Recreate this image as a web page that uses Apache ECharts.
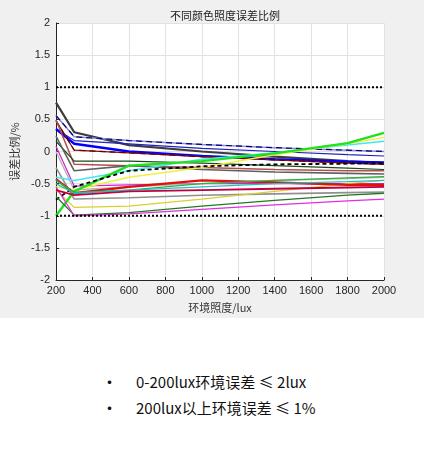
<!DOCTYPE html>
<html>
<head>
<meta charset="utf-8">
<script src="https://cdn.jsdelivr.net/npm/echarts@6/dist/echarts.min.js"></script>
<style>
  body { margin: 0; background: #fff; }
  #chart { width: 424px; height: 318px; }
  .notes { font-family: "Noto Sans CJK SC", sans-serif; font-size: 15px; color: #111; }
  .notes div { position: absolute; left: 101px; font-size: 17px; line-height: 20px; }
  .notes span { position: absolute; left: 35px; top: 0; font-size: 15px; white-space: nowrap; }
</style>
</head>
<body>
<div id="chart"></div>
<div class="notes">
  <div style="top:372px">•<span>0-200lux环境误差 ≤ 2lux</span></div>
  <div style="top:398px">•<span>200lux以上环境误差 ≤ 1%</span></div>
</div>
<script>
// 照度点 (lux)
var luxPoints = [200, 300, 600, 1000, 1400, 1800, 2000];

// 各颜色误差比例 (%)
var darkGray1  = [0.76, 0.30, 0.10, 0.00, -0.08, -0.15, -0.18];
var lavender   = [0.56, 0.23, 0.17, 0.11, 0.06, 0.02, 0.00];
var blueThin   = [0.35, 0.17, 0.12, 0.05, 0.00, -0.05, -0.07];
var blueThick  = [0.35, 0.12, 0.00, -0.07, -0.12, -0.16, -0.17];
var darkRed    = [0.48, 0.02, -0.02, -0.08, -0.13, -0.18, -0.20];
var brownRed   = [0.49, -0.20, -0.22, -0.25, -0.28, -0.30, -0.30];
var darkGreen1 = [0.16, -0.15, -0.15, -0.18, -0.22, -0.26, -0.28];
var grayDark2  = [0.24, -0.30, -0.22, -0.28, -0.32, -0.34, -0.35];
var magenta1   = [0.08, -0.54, -0.52, -0.50, -0.50, -0.50, -0.50];
var grayLight  = [0.00, -0.60, -0.55, -0.50, -0.45, -0.42, -0.40];
var grayMid    = [-0.25, -0.74, -0.72, -0.68, -0.66, -0.64, -0.63];
var cyanRise   = [-0.40, -0.45, -0.30, -0.12, -0.02, 0.10, 0.16];
var yellowHigh = [-0.55, -0.60, -0.40, -0.25, -0.05, 0.12, 0.22];
var yellowLow  = [-0.60, -0.87, -0.85, -0.74, -0.62, -0.50, -0.45];
var greenRise  = [-1.00, -0.62, -0.22, -0.15, -0.03, 0.13, 0.29];
var blackDash  = [-0.75, -0.55, -0.30, -0.23, -0.20, -0.19, -0.18];
var redThick   = [-0.43, -0.65, -0.55, -0.45, -0.48, -0.52, -0.52];
var greenMid   = [-0.45, -0.64, -0.60, -0.50, -0.45, -0.41, -0.39];
var teal       = [-0.50, -0.65, -0.60, -0.55, -0.50, -0.47, -0.45];
var darkGreen2 = [-0.70, -0.99, -0.95, -0.85, -0.76, -0.68, -0.65];
var magenta2   = [-0.55, -1.00, -0.97, -0.90, -0.83, -0.77, -0.74];
var crimson    = [-0.60, -0.68, -0.62, -0.60, -0.58, -0.56, -0.55];

// 误差上下限
var limitX = [200, 2000];
var upperLimit = [1, 1];
var lowerLimit = [-1, -1];

function pairs(xs, ys) {
    return xs.map(function (x, i) { return [x, ys[i]]; });
}

function line(data, color, width, type) {
    return {
        type : 'line',
        data : pairs(luxPoints, data),
        symbol : 'none',
        silent : true,
        lineStyle : { color : color, width : width || 1.2, type : type || 'solid' }
    };
}

var seriesList = [
    line(darkGray1, '#3c3c3c', 2.2),
    line(lavender, '#8a8ad0', 1.5),
    line(lavender, '#000080', 1.2, [6, 4]),
    line(blueThin, '#2020c0', 1.2),
    line(blueThick, '#0000ff', 2.4),
    line(darkRed, '#8b1010', 1.2),
    line(darkRed, '#600000', 1.2, [6, 4]),
    line(brownRed, '#b05050', 1.5),
    line(darkGreen1, '#1a4a1a', 1.2),
    line(grayDark2, '#606060', 1.6),
    line(magenta1, '#d020d0', 1.2),
    line(grayLight, '#b8b8b8', 1.5),
    line(grayMid, '#909090', 1.6),
    line(cyanRise, '#40e8f0', 1.5),
    line(yellowHigh, '#f0f040', 1.5),
    line(yellowLow, '#d8d030', 1.3),
    line(greenRise, '#20e020', 2.4),
    line(blackDash, '#000000', 1.8, [4, 3]),
    line(redThick, '#e01010', 2.4),
    line(greenMid, '#30b040', 1.3),
    line(teal, '#20c0c0', 1.3),
    line(darkGreen2, '#207a20', 1.3),
    line(magenta2, '#e030e0', 1.3),
    line(crimson, '#c00040', 1.8),
    {
        type : 'line',
        data : pairs(limitX, upperLimit),
        symbol : 'none',
        silent : true,
        lineStyle : { color : '#000', width : 2, type : [2, 2] }
    },
    {
        type : 'line',
        data : pairs(limitX, lowerLimit),
        symbol : 'none',
        silent : true,
        lineStyle : { color : '#000', width : 2, type : [2, 2] }
    }
];

var myChart = echarts.init(document.getElementById('chart'));
var option =
{
    backgroundColor : '#f0f0f0',
    animation : false,
    title :
    {
        text : '不同颜色照度误差比例',
        left : 220,
        textAlign : 'center',
        top : 5,
        textStyle : { fontSize : 11, fontWeight : 'normal', color : '#222', fontFamily : 'Noto Sans CJK SC' }
    },
    grid :
    {
        left : 56, right : 40, top : 23, bottom : 36,
        show : true, backgroundColor : '#fff', borderWidth : 0
    },
    xAxis :
    {
        type : 'value',
        min : 200, max : 2000, interval : 200,
        name : '环境照度/lux',
        nameLocation : 'middle',
        nameGap : 22,
        nameTextStyle : { fontSize : 11, color : '#333', fontFamily : 'Noto Sans CJK SC' },
        axisLine : { show : true, onZero : false, lineStyle : { color : '#262626', width : 1 } },
        axisTick : { show : true, inside : true, length : 3, lineStyle : { color : '#262626' } },
        axisLabel : {
            fontSize : 11, color : '#262626', margin : 5, fontFamily : 'Liberation Sans',
            formatter : function (v) { return String(v); } // 不要千分位
        },
        splitLine : { show : true, lineStyle : { color : '#e2e2e2' } }
    },
    yAxis :
    {
        type : 'value',
        min : -2, max : 2, interval : 0.5,
        name : '误差比例/%',
        nameLocation : 'middle',
        nameGap : 28,
        nameTextStyle : { fontSize : 11, color : '#333', fontFamily : 'Noto Sans CJK SC' },
        axisLine : { show : true, lineStyle : { color : '#262626', width : 1 } },
        axisTick : { show : true, inside : true, length : 3, lineStyle : { color : '#262626' } },
        axisLabel : { fontSize : 11, color : '#262626', margin : 6, fontFamily : 'Liberation Sans' },
        splitLine : { show : true, lineStyle : { color : '#e2e2e2' } }
    },
    series : seriesList
};

myChart.setOption(option);
</script>
</body>
</html>
